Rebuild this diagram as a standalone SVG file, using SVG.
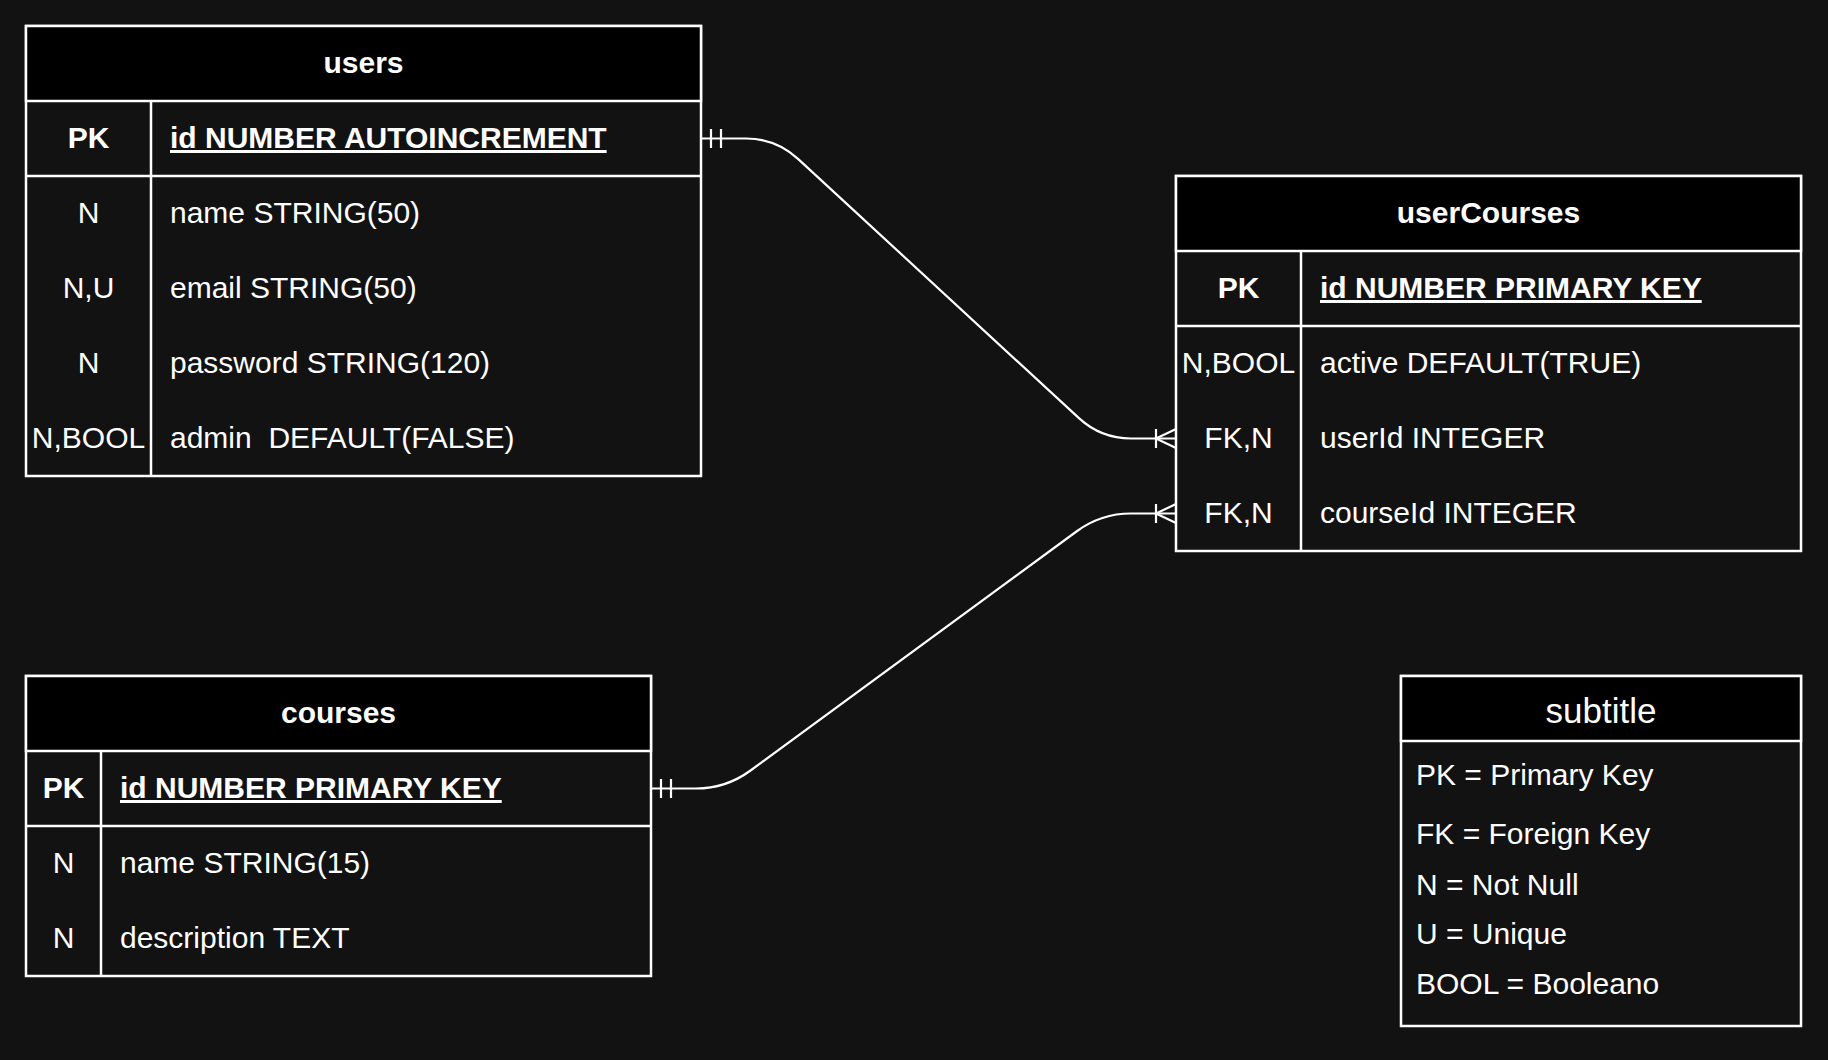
<svg xmlns="http://www.w3.org/2000/svg" width="1828" height="1060" viewBox="0 0 1828 1060">
<style>
  .box { fill: #121212; stroke: #ffffff; stroke-width: 2.5; }
  .hdr { fill: #000000; stroke: #ffffff; stroke-width: 2.5; }
  .ln { stroke: #ffffff; stroke-width: 2.5; fill: none; }
  .t { font-family: "Liberation Sans", Arial, sans-serif; font-size: 30px; fill: #ffffff; }
  .b { font-weight: bold; }
  .c { text-anchor: middle; }
  .u { text-decoration: underline; }
  .title { font-family: "Liberation Sans", Arial, sans-serif; font-size: 30px; font-weight: bold; fill: #ffffff; text-anchor: middle; }
  .conn { stroke: #ffffff; stroke-width: 2.2; fill: none; }
</style>
<defs>
  <marker id="one" markerUnits="userSpaceOnUse" markerWidth="1" markerHeight="1" refX="0" refY="0" orient="auto" overflow="visible">
    <path d="M10,-9.5 V9.5 M20,-9.5 V9.5" stroke="#ffffff" stroke-width="2.2" fill="none"/>
  </marker>
  <marker id="many" markerUnits="userSpaceOnUse" markerWidth="1" markerHeight="1" refX="0" refY="0" orient="auto" overflow="visible">
    <path d="M-20,-9.5 V9.5 M0,-9.5 L-20,0 L0,9.5" stroke="#ffffff" stroke-width="2.2" fill="none"/>
  </marker>
</defs>
<rect x="0" y="0" width="1828" height="1060" fill="#121212"/>

<g id="connectors">
  <path class="conn" d="M701,138.5 H746 Q776,138.5 798,158.85 L1078.96,418.15 Q1101,438.5 1131,438.5 H1176" marker-start="url(#one)" marker-end="url(#many)"/>
  <path class="conn" d="M651,788.5 H696 Q726,788.5 750.19,770.76 L1076.81,531.24 Q1101,513.5 1131,513.5 H1176" marker-start="url(#one)" marker-end="url(#many)"/>
</g>

<g id="users">
  <rect class="box" x="26" y="26" width="675" height="450"/>
  <rect class="hdr" x="26" y="26" width="675" height="75"/>
  <line class="ln" x1="26" y1="176" x2="701" y2="176"/>
  <line class="ln" x1="151" y1="101" x2="151" y2="476"/>
  <text class="title" x="363.5" y="73">users</text>
  <text class="t b c" x="88.5" y="148">PK</text>
  <text class="t b u" x="170" y="148">id NUMBER AUTOINCREMENT</text>
  <text class="t c" x="88.5" y="223">N</text>
  <text class="t" x="170" y="223">name STRING(50)</text>
  <text class="t c" x="88.5" y="298">N,U</text>
  <text class="t" x="170" y="298">email STRING(50)</text>
  <text class="t c" x="88.5" y="373">N</text>
  <text class="t" x="170" y="373">password STRING(120)</text>
  <text class="t c" x="88.5" y="448">N,BOOL</text>
  <text class="t" x="170" y="448" xml:space="preserve">admin  DEFAULT(FALSE)</text>
</g>

<g id="userCourses">
  <rect class="box" x="1176" y="176" width="625" height="375"/>
  <rect class="hdr" x="1176" y="176" width="625" height="75"/>
  <line class="ln" x1="1176" y1="326" x2="1801" y2="326"/>
  <line class="ln" x1="1301" y1="251" x2="1301" y2="551"/>
  <text class="title" x="1488.5" y="223">userCourses</text>
  <text class="t b c" x="1238.5" y="298">PK</text>
  <text class="t b u" x="1320" y="298">id NUMBER PRIMARY KEY</text>
  <text class="t c" x="1238.5" y="373">N,BOOL</text>
  <text class="t" x="1320" y="373">active DEFAULT(TRUE)</text>
  <text class="t c" x="1238.5" y="448">FK,N</text>
  <text class="t" x="1320" y="448">userId INTEGER</text>
  <text class="t c" x="1238.5" y="523">FK,N</text>
  <text class="t" x="1320" y="523">courseId INTEGER</text>
</g>

<g id="courses">
  <rect class="box" x="26" y="676" width="625" height="300"/>
  <rect class="hdr" x="26" y="676" width="625" height="75"/>
  <line class="ln" x1="26" y1="826" x2="651" y2="826"/>
  <line class="ln" x1="101" y1="751" x2="101" y2="976"/>
  <text class="title" x="338.5" y="723">courses</text>
  <text class="t b c" x="63.5" y="798">PK</text>
  <text class="t b u" x="120" y="798">id NUMBER PRIMARY KEY</text>
  <text class="t c" x="63.5" y="873">N</text>
  <text class="t" x="120" y="873">name STRING(15)</text>
  <text class="t c" x="63.5" y="948">N</text>
  <text class="t" x="120" y="948">description TEXT</text>
</g>

<g id="subtitle">
  <rect class="box" x="1401" y="676" width="400" height="350"/>
  <rect class="hdr" x="1401" y="676" width="400" height="65"/>
  <text class="t c" x="1601" y="723" style="font-size:35px">subtitle</text>
  <text class="t" x="1416" y="785">PK = Primary Key</text>
  <text class="t" x="1416" y="844">FK = Foreign Key</text>
  <text class="t" x="1416" y="895">N = Not Null</text>
  <text class="t" x="1416" y="944">U = Unique</text>
  <text class="t" x="1416" y="994">BOOL = Booleano</text>
</g>
</svg>
